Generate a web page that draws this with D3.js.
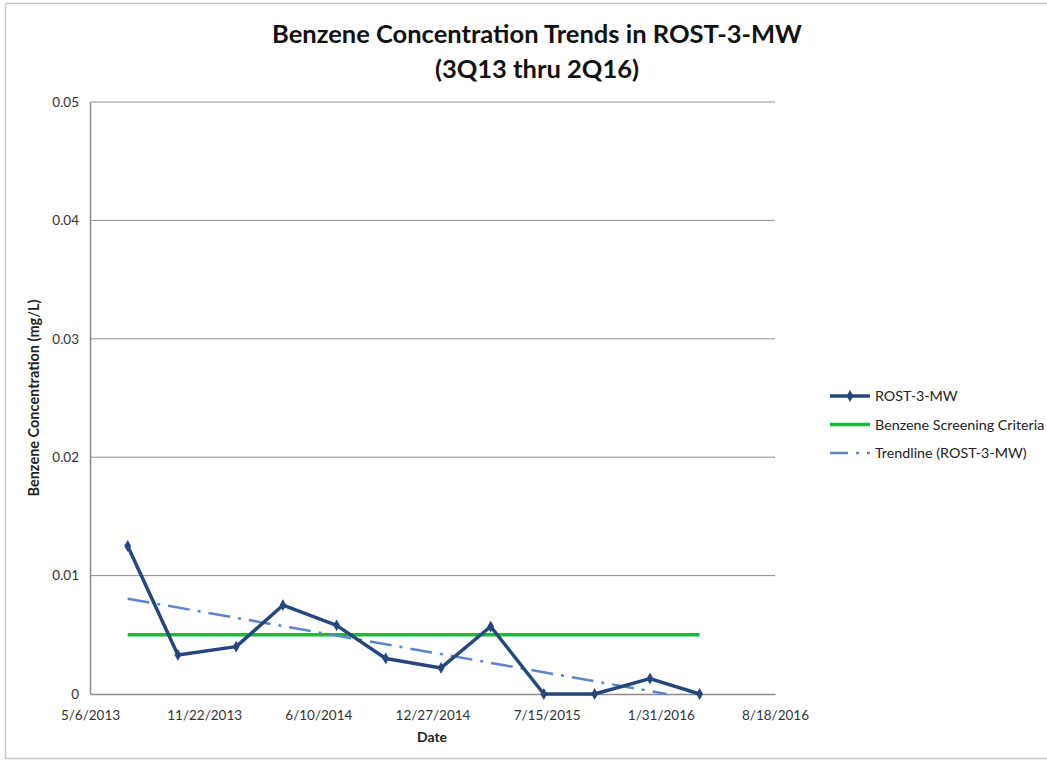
<!DOCTYPE html>
<html>
<head>
<meta charset="utf-8">
<script src="https://cdn.jsdelivr.net/npm/d3@7"></script>
<style>
  body { margin: 0; background: #fff; }
  svg { display: block; font-family: Lato, "Open Sans", sans-serif; }
</style>
</head>
<body>
<svg id="chart" width="1047" height="764"></svg>
<script>
// sample dates (quarterly, 3Q13 - 2Q16) and benzene results in mg/L
const sampleDates = ["7/11/2013", "10/7/2013", "1/17/2014", "4/9/2014", "7/12/2014", "10/6/2014",
                     "1/11/2015", "4/8/2015", "7/10/2015", "10/7/2015", "1/12/2016", "4/8/2016"];
const benzene = [0.0125, 0.0033, 0.0040, 0.0075, 0.0058, 0.0030,
                 0.0022, 0.0057, 0.0, 0.0, 0.0013, 0.0];
const screeningCriteria = 0.005;
const xTickLabels = ["5/6/2013", "11/22/2013", "6/10/2014", "12/27/2014", "7/15/2015", "1/31/2016", "8/18/2016"];
const yTicks = [0, 0.01, 0.02, 0.03, 0.04, 0.05];

const parse = d3.timeParse("%m/%d/%Y");
const fmt = d3.timeFormat("%-m/%-d/%Y");
const points = sampleDates.map((d, i) => ({ date: parse(d), value: benzene[i] }));
const xTicks = xTickLabels.map(parse);

const svg = d3.select("#chart");
const margin = { left: 90, top: 102, right: 775, bottom: 694 };

const x = d3.scaleTime()
  .domain([xTicks[0], xTicks[xTicks.length - 1]])
  .range([margin.left, margin.right]);
const y = d3.scaleLinear()
  .domain([0, 0.05])
  .range([margin.bottom, margin.top]);

// outer chart border
svg.append("rect")
  .attr("x", 5.5).attr("y", 3.5)
  .attr("width", 1050).attr("height", 755)
  .attr("fill", "none").attr("stroke", "#c8c8c8").attr("stroke-width", 1.5);

// title
const title = svg.append("text")
  .attr("x", 537).attr("y", 43)
  .attr("text-anchor", "middle")
  .attr("font-size", 25.5).attr("font-weight", "bold").attr("fill", "#111");
title.append("tspan").attr("x", 537).text("Benzene Concentration Trends in ROST-3-MW");
title.append("tspan").attr("x", 537).attr("dy", 35).text("(3Q13 thru 2Q16)");

// gridlines
svg.append("g")
  .selectAll("line")
  .data(yTicks.filter(d => d > 0))
  .join("line")
  .attr("x1", margin.left).attr("x2", margin.right)
  .attr("y1", d => y(d)).attr("y2", d => y(d))
  .attr("stroke", "#8c8c8c").attr("stroke-width", 1);

// y axis
const yAxis = svg.append("g")
  .attr("transform", `translate(${margin.left},0)`)
  .call(d3.axisLeft(y).tickValues(yTicks).tickSize(0).tickPadding(11)
    .tickFormat(d => d === 0 ? "0" : d3.format(".2f")(d)));
yAxis.select(".domain").attr("stroke", "#8c8c8c").attr("stroke-width", 1.5);
yAxis.selectAll("text").attr("font-size", 13.5).attr("fill", "#333")
  .attr("font-family", "Lato, sans-serif");

// x axis
const xAxis = svg.append("g")
  .attr("transform", `translate(0,${margin.bottom})`)
  .call(d3.axisBottom(x).tickValues(xTicks).tickSize(0).tickPadding(16).tickFormat(fmt));
xAxis.select(".domain").attr("stroke", "#8c8c8c").attr("stroke-width", 1.5);
xAxis.selectAll("text").attr("font-size", 13.5).attr("fill", "#333")
  .attr("font-family", "Lato, sans-serif");

// axis titles
svg.append("text")
  .attr("x", 432).attr("y", 742)
  .attr("text-anchor", "middle")
  .attr("font-size", 14).attr("font-weight", "bold").attr("fill", "#222")
  .text("Date");
svg.append("text")
  .attr("transform", "translate(39,398) rotate(-90)")
  .attr("text-anchor", "middle")
  .attr("font-size", 14.5).attr("font-weight", "bold").attr("fill", "#222")
  .text("Benzene Concentration (mg/L)");

// screening criteria line
const first = points[0].date, last = points[points.length - 1].date;
svg.append("line")
  .attr("x1", x(first)).attr("x2", x(last))
  .attr("y1", y(screeningCriteria)).attr("y2", y(screeningCriteria))
  .attr("stroke", "#1fb83c").attr("stroke-width", 3.5);

// linear trendline (least squares), clipped at the axis minimum like Excel
const xs = points.map(p => +p.date), ys = points.map(p => p.value);
const mx = d3.mean(xs), my = d3.mean(ys);
const slope = d3.sum(xs, (v, i) => (v - mx) * (ys[i] - my)) / d3.sum(xs, v => (v - mx) * (v - mx));
const icpt = my - slope * mx;
const zeroAt = -icpt / slope;
const trendEnd = Math.min(+last, zeroAt);
svg.append("line")
  .attr("x1", x(first)).attr("y1", y(slope * +first + icpt))
  .attr("x2", x(new Date(trendEnd))).attr("y2", y(slope * trendEnd + icpt))
  .attr("stroke", "#5b86c9").attr("stroke-width", 2.5)
  .attr("stroke-dasharray", "22,8,3,8");

// data series
svg.append("path")
  .datum(points)
  .attr("fill", "none")
  .attr("stroke", "#24477d").attr("stroke-width", 3.5)
  .attr("stroke-linejoin", "round")
  .attr("d", d3.line().x(d => x(d.date)).y(d => y(d.value)));

const diamond = d3.symbol().type(d3.symbolDiamond).size(40);
svg.append("g")
  .selectAll("path")
  .data(points)
  .join("path")
  .attr("transform", d => `translate(${x(d.date)},${y(d.value)})`)
  .attr("d", diamond)
  .attr("fill", "#24477d");

// legend
const legendItems = [
  { label: "ROST-3-MW", color: "#24477d", width: 3.5, dash: null, marker: true },
  { label: "Benzene Screening Criteria", color: "#1fb83c", width: 3.5, dash: null, marker: false },
  { label: "Trendline (ROST-3-MW)", color: "#5b86c9", width: 2.5, dash: "18,8,3,8", marker: false }
];
const legend = svg.append("g").attr("transform", "translate(830,396)");
const row = legend.selectAll("g")
  .data(legendItems)
  .join("g")
  .attr("transform", (d, i) => `translate(0,${i * 28.5})`);
row.append("line")
  .attr("x1", 0).attr("x2", 40)
  .attr("stroke", d => d.color).attr("stroke-width", d => d.width)
  .attr("stroke-dasharray", d => d.dash);
row.filter(d => d.marker).append("path")
  .attr("transform", "translate(20,0)")
  .attr("d", diamond)
  .attr("fill", d => d.color);
row.append("text")
  .attr("x", 45).attr("dy", "0.35em")
  .attr("font-size", 14.3).attr("fill", "#222")
  .text(d => d.label);
</script>
</body>
</html>
